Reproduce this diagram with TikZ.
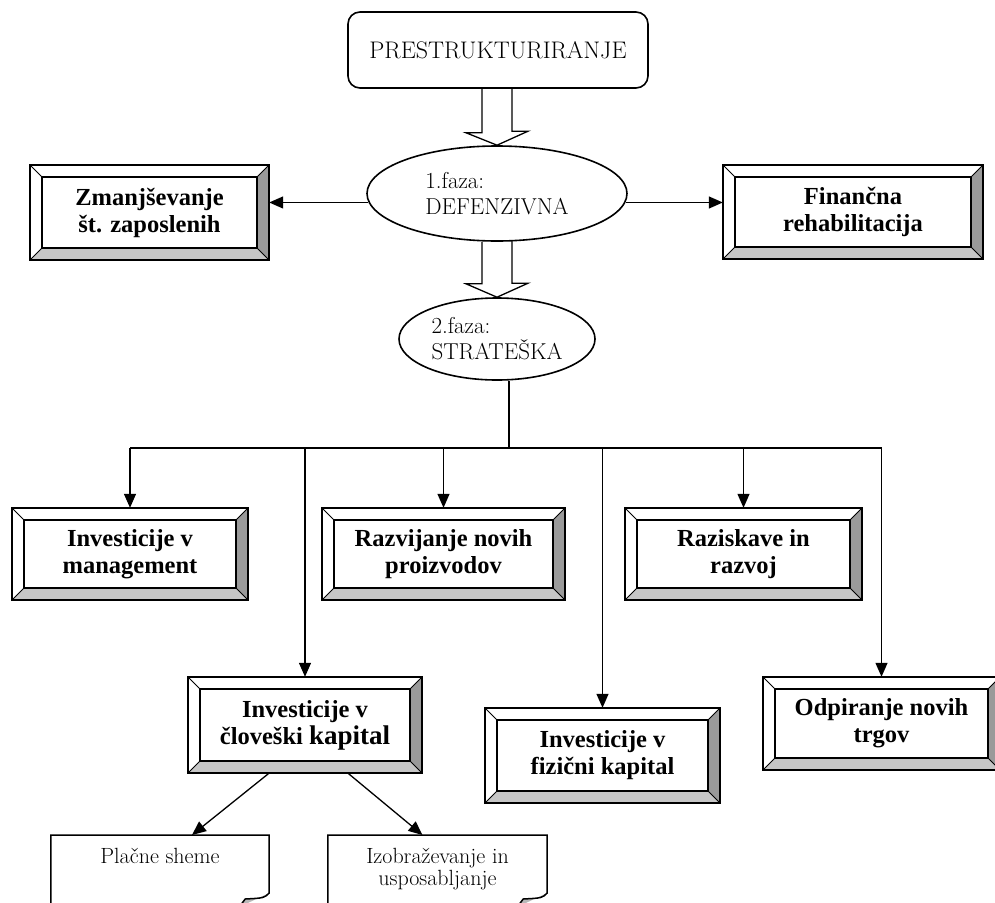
\documentclass[tikz,border=0pt]{standalone}
\usepackage{fontspec}
\newfontfamily\tnr{Liberation Serif}
\newfontfamily\lmten{Latin Modern Roman}
\usetikzlibrary{arrows.meta,calc,shapes.geometric}

\definecolor{bevR}{HTML}{9A9A9A}
\definecolor{bevB}{HTML}{C6C6C6}
\definecolor{flap}{HTML}{B8B8B8}

\tikzset{
  bevel/.style={inner sep=0pt, align=center,
    font=\tnr\bfseries\fontsize{24.5pt}{27pt}\selectfont},
  topbox/.style={draw, line width=1.6pt, rounded corners=12pt, fill=white,
    inner sep=0pt, font=\lmten\fontsize{24pt}{28pt}\selectfont},
  phase/.style={ellipse, draw, line width=1.6pt, fill=white, inner sep=0pt,
    align=left, font=\lmten\fontsize{23pt}{26pt}\selectfont},
  docnode/.style={anchor=north, inner xsep=0pt, inner ysep=13pt, align=center,
    font=\lmten\fontsize{22pt}{22pt}\selectfont},
  arr/.style={line width=1.3pt, -{Triangle[length=14pt,width=12pt]}},
  ln/.style={line width=1.3pt},
  blk/.style={line width=1.3pt, line join=miter},
}

% bevelled box: name, x, y, width, height, text
\newcommand\bevelbox[6]{%
  \node[bevel, minimum width=#4pt, minimum height=#5pt] (#1) at (#2,#3) {#6};
  \coordinate (#1-a) at ([xshift=12pt,yshift=-12pt]#1.north west);
  \coordinate (#1-b) at ([xshift=-12pt,yshift=-12pt]#1.north east);
  \coordinate (#1-c) at ([xshift=-12pt,yshift=12pt]#1.south east);
  \coordinate (#1-d) at ([xshift=12pt,yshift=12pt]#1.south west);
  \fill[bevR] (#1.north east) -- (#1.south east) -- (#1-c) -- (#1-b) -- cycle;
  \fill[bevB] (#1.south west) -- (#1.south east) -- (#1-c) -- (#1-d) -- cycle;
  \draw[line width=1pt] (#1.north west) -- (#1-a) (#1.north east) -- (#1-b)
    (#1.south east) -- (#1-c) (#1.south west) -- (#1-d);
  \draw[line width=1.5pt] (#1-a) rectangle (#1-c);
  \draw[line width=2pt] (#1.north west) rectangle (#1.south east);
}

% page with a folded corner: name, x, top y, width, text
\newcommand\docpage[5]{%
  \node[docnode, minimum width=#4pt] (#1) at (#2,#3) {#5};
  \coordinate (#1-f) at ([yshift=-58pt]#1.north east);
  \fill[flap] (#1-f) .. controls ($(#1-f)+(-5,5)$) .. ($(#1-f)+(-24,6)$)
    -- ($(#1-f)+(-30,14)$) -- cycle;
  \draw[line width=1.5pt] ([yshift=-90pt]#1.north west) -- (#1.north west)
    -- (#1.north east) -- (#1-f)
    .. controls ($(#1-f)+(-5,5)$) .. ($(#1-f)+(-24,6)$) -- ($(#1-f)+(-30,14)$);
}

\begin{document}
\begin{tikzpicture}[x=1pt,y=-1pt]
\useasboundingbox (0,0) rectangle (995,902);
\clip (0,0) rectangle (995,902);

% restructuring and its two phases
\node[topbox, minimum width=300pt, minimum height=76pt] (top) at (498,50) {PRESTRUKTURIRANJE};
\node[phase, minimum width=260pt, minimum height=95pt] (e1) at (497,193.5) {1.faza:\\DEFENZIVNA};
\node[phase, minimum width=196pt, minimum height=82pt] (e2) at (497,339) {2.faza:\\STRATEŠKA};

% hollow arrows between the phases
\draw[blk] ([xshift=-16pt]top.south) -- ++(0,44) -- ++(-16,0) -- (e1.north)
  -- ++(31,-14) -- ++(-16,0) -- ++(0,-44);
\draw[blk] ([xshift=-15pt]e1.south) -- ++(0,42) -- ++(-16,0) -- (e2.north)
  -- ++(31,-14) -- ++(-16,0) -- ++(0,-42);

% defensive measures
\bevelbox{zm}{149.5}{212.5}{239}{95}{Zmanjševanje\\št. zaposlenih}
\bevelbox{fin}{853}{212}{260}{94}{Finančna\\rehabilitacija}
\draw[arr] (e1.184) -- (e1.184 -| zm.east);
\draw[arr] (e1.-4) -- (e1.-4 -| fin.west);

% strategic measures
\bevelbox{mg}{130}{554}{236}{92}{Investicije v\\management}
\bevelbox{rz}{443.5}{554}{243}{92}{Razvijanje novih\\proizvodov}
\bevelbox{rk}{743.5}{554}{237}{92}{Raziskave in\\razvoj}
\bevelbox{hum}{305}{725}{234}{96}{Investicije v\\človeški {\fontsize{27pt}{27pt}\selectfont kapital}}
\bevelbox{fiz}{602.5}{755.5}{235}{95}{Investicije v\\fizični kapital}
\bevelbox{odp}{881.5}{723.5}{237}{93}{Odpiranje novih\\trgov}

\coordinate (bus) at (0,448);
\coordinate (stem) at ([xshift=12pt]e2.south);
\draw[ln] (stem) -- (stem |- bus);
\draw[ln] (mg.north |- bus) -- (odp.north |- bus);
\foreach \b in {mg,hum,rz,fiz,rk,odp}
  \draw[arr] (\b.north |- bus) -- (\b.north);

% human capital programmes
\docpage{d1}{160}{835}{218}{Plačne sheme}
\docpage{d2}{437.5}{835}{219}{Izobraževanje in\\usposabljanje}
\draw[arr] ([xshift=-36pt]hum.south) -- ([xshift=32pt]d1.north);
\draw[arr] ([xshift=43pt]hum.south) -- ([xshift=-15pt]d2.north);
\end{tikzpicture}
\end{document}
